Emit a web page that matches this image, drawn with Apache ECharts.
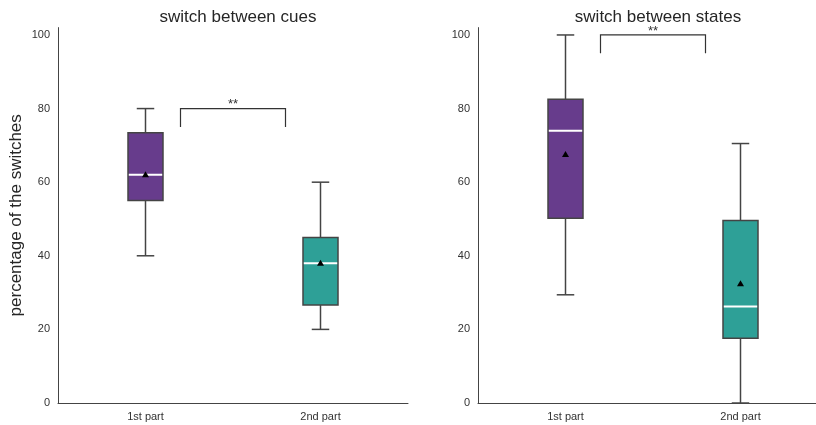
<!DOCTYPE html>
<html>
<head>
<meta charset="utf-8">
<script src="https://cdn.jsdelivr.net/npm/echarts@6/dist/echarts.min.js"></script>
<style>html,body{margin:0;padding:0;background:#fff;overflow:hidden}#c{width:832px;height:425px}</style>
</head>
<body>
<div id="c"></div>
<script>
const categories = ['1st part', '2nd part'];
const panelTitles = ['switch between cues', 'switch between states'];
const yAxisName = 'percentage of the switches';
const yTicks = [0, 20, 40, 60, 80, 100];
// [lowerWhisker, q1, median, q3, upperWhisker, mean]
const cuesStats = [
  [40, 55.0, 62.0, 73.4, 80, 62.0],
  [20, 26.6, 38.0, 45.0, 60, 38.0]
];
const statesStats = [
  [29.4, 50.2, 74.0, 82.5, 100, 67.5],
  [0, 17.6, 26.2, 49.6, 70.5, 32.4]
];
// significance brackets: [top, bottom]
const cuesBracket = [80, 75];
const statesBracket = [100, 95];
const sigLabel = '**';

const boxColors = ['#673c8c', '#2ea097'];
const edge = '#444444';
const font = '"Liberation Sans", Arial, sans-serif';

function renderBox(params, api) {
  const i = api.value(0);
  const band = api.size([1, 0])[0];
  const x = api.coord([i, 0])[0];
  const bw = band * 0.2;
  const cw = bw / 2;
  const y = k => api.coord([i, api.value(k)])[1];
  const lo = y(1), q1 = y(2), med = y(3), q3 = y(4), hi = y(5), mean = y(6);
  const ls = {stroke: edge, lineWidth: 1.5};
  return {
    type: 'group',
    children: [
      {type: 'line', shape: {x1: x, y1: q1, x2: x, y2: lo}, style: ls},
      {type: 'line', shape: {x1: x, y1: q3, x2: x, y2: hi}, style: ls},
      {type: 'line', shape: {x1: x - cw / 2, y1: lo, x2: x + cw / 2, y2: lo}, style: ls},
      {type: 'line', shape: {x1: x - cw / 2, y1: hi, x2: x + cw / 2, y2: hi}, style: ls},
      {type: 'rect', shape: {x: x - bw / 2, y: q3, width: bw, height: q1 - q3},
        style: {fill: boxColors[i], stroke: edge, lineWidth: 1.5}},
      {type: 'line', shape: {x1: x - bw / 2 + 0.8, y1: med, x2: x + bw / 2 - 0.8, y2: med},
        style: {stroke: '#ffffff', lineWidth: 2}},
      {type: 'polygon', shape: {points: [[x, mean - 3.5], [x - 3.5, mean + 2.5], [x + 3.5, mean + 2.5]]},
        style: {fill: '#000000'}}
    ]
  };
}

function renderBracket(params, api) {
  const x0 = api.coord([0, 0])[0], x1 = api.coord([1, 0])[0];
  const a = x0 + 0.2 * (x1 - x0), b = x0 + 0.8 * (x1 - x0);
  const top = api.coord([0, api.value(0)])[1];
  const bot = api.coord([0, api.value(1)])[1];
  return {
    type: 'group',
    children: [
      {type: 'polyline', shape: {points: [[a, bot], [a, top], [b, top], [b, bot]]},
        style: {stroke: '#333333', lineWidth: 1.2, fill: null}},
      {type: 'text', x: (a + b) / 2, y: top - 4,
        style: {text: sigLabel, fill: '#333333', font: '13px ' + font, align: 'center', verticalAlign: 'middle'}}
    ]
  };
}

function boxData(stats) {
  return stats.map((s, i) => [i].concat(s));
}

const grids = [
  {left: 58, top: 27.6, width: 350, height: 375.4},
  {left: 478, top: 27.6, width: 350, height: 375.4}
];

const xAxes = [0, 1].map(g => ({
  type: 'category', gridIndex: g, data: categories, boundaryGap: true,
  axisLine: {lineStyle: {color: edge, width: 1}},
  axisTick: {show: false},
  axisLabel: {color: '#333', fontSize: 11, fontFamily: font, margin: 8},
  splitLine: {show: false}
}));

const yAxes = [0, 1].map(g => ({
  type: 'value', gridIndex: g, min: 0, max: 102, interval: 20,
  axisLine: {show: true, lineStyle: {color: edge, width: 1}},
  axisTick: {show: false},
  splitLine: {show: false},
  axisLabel: {color: '#333', fontSize: 11, fontFamily: font, margin: 8, showMaxLabel: false,
    formatter: v => (yTicks.indexOf(v) >= 0 ? String(v) : '')},
  name: g === 0 ? yAxisName : '',
  nameLocation: 'middle', nameGap: 33,
  nameTextStyle: {color: '#262626', fontSize: 17, fontFamily: font}
}));

const chart = echarts.init(document.getElementById('c'), null, {renderer: 'canvas'});
chart.setOption({
  backgroundColor: '#ffffff',
  animation: false,
  title: [
    {text: panelTitles[0], left: 233, top: 4, textAlign: 'center',
      textStyle: {color: '#262626', fontSize: 17, fontWeight: 'normal', fontFamily: font}},
    {text: panelTitles[1], left: 653, top: 4, textAlign: 'center',
      textStyle: {color: '#262626', fontSize: 17, fontWeight: 'normal', fontFamily: font}}
  ],
  grid: grids,
  xAxis: xAxes,
  yAxis: yAxes,
  series: [
    {type: 'custom', xAxisIndex: 0, yAxisIndex: 0, renderItem: renderBox, data: boxData(cuesStats), clip: false},
    {type: 'custom', xAxisIndex: 1, yAxisIndex: 1, renderItem: renderBox, data: boxData(statesStats), clip: false},
    {type: 'custom', xAxisIndex: 0, yAxisIndex: 0, renderItem: renderBracket, data: [cuesBracket], clip: false},
    {type: 'custom', xAxisIndex: 1, yAxisIndex: 1, renderItem: renderBracket, data: [statesBracket], clip: false}
  ]
});
</script>
</body>
</html>
